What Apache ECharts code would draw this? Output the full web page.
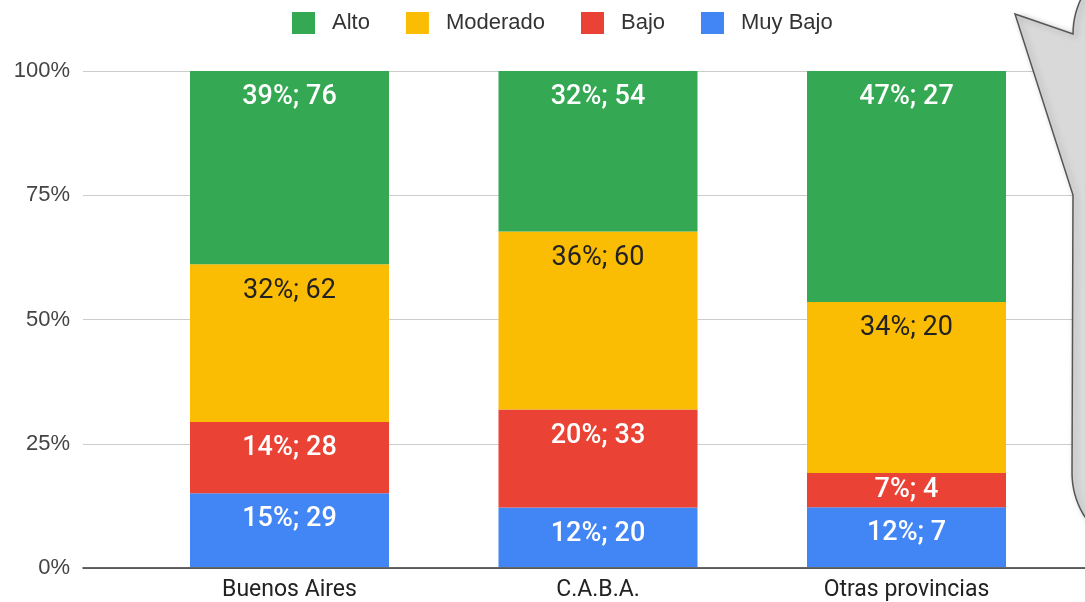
<!DOCTYPE html>
<html>
<head>
<meta charset="utf-8">
<script src="https://cdn.jsdelivr.net/npm/echarts@6/dist/echarts.min.js"></script>
<style>
html,body{margin:0;padding:0;background:#fff;}
#chart{width:1085px;height:602px;}
</style>
</head>
<body>
<div id="chart"></div>
<script>
// Data (counts per level)
const categories = ['Buenos Aires', 'C.A.B.A.', 'Otras provincias'];
const muyBajo = [29, 20, 7];
const bajo = [28, 33, 4];
const moderado = [62, 60, 20];
const alto = [76, 54, 27];
const yTicks = [0, 25, 50, 75, 100];

const seriesDefs = [
  { name: 'Muy Bajo', counts: muyBajo, color: '#4285f4', text: '#ffffff', weight: 500 },
  { name: 'Bajo', counts: bajo, color: '#ea4335', text: '#ffffff', weight: 500 },
  { name: 'Moderado', counts: moderado, color: '#fbbc04', text: '#222222', weight: 'normal' },
  { name: 'Alto', counts: alto, color: '#34a853', text: '#ffffff', weight: 500 }
];

const totals = categories.map((c, i) => seriesDefs.reduce((s, d) => s + d.counts[i], 0));
const plotH = 497; // px height of plot, used only to decide label placement

const series = seriesDefs.map(d => ({
  name: d.name,
  type: 'bar',
  stack: 'total',
  xAxisIndex: 1,
  yAxisIndex: 1,
  barWidth: 199,
  itemStyle: { color: d.color },
  data: d.counts.map((v, i) => {
    const pct = v / totals[i] * 100;
    const small = pct / 100 * plotH < 48;
    return {
      value: pct,
      count: v,
      label: { position: small ? 'inside' : 'insideTop' }
    };
  }),
  label: {
    show: true,
    position: 'insideTop',
    distance: 13,
    color: d.text,
    fontFamily: 'Roboto',
    fontWeight: d.weight,
    fontSize: 27,
    formatter: p => Math.round(p.value) + '%; ' + p.data.count
  }
}));

// Speech-bubble decoration outline (drawn as polygon)
function arcPts(cx, cy, r, a0, a1, n) {
  const pts = [];
  for (let k = 0; k <= n; k++) {
    const a = a0 + (a1 - a0) * k / n;
    pts.push([cx + r * Math.cos(a), cy + r * Math.sin(a)]);
  }
  return pts;
}
const bubblePts = [[1015, 14], [1073, 34]]
  .concat(arcPts(1154, 34, 81, Math.PI, Math.PI * 1.5, 24))
  .concat([[1220, -47], [1220, 554], [1153, 554]])
  .concat(arcPts(1153, 473, 81, Math.PI * 0.5, Math.PI, 24))
  .concat([[1073, 195]]);

const chart = echarts.init(document.getElementById('chart'), null, { renderer: 'canvas' });
chart.setOption({
  animation: false,
  legend: {
    data: ['Alto', 'Moderado', 'Bajo', 'Muy Bajo'],
    left: 292,
    top: 12,
    padding: 0,
    itemWidth: 23,
    itemHeight: 22,
    itemGap: 36,
    icon: 'rect',
    textStyle: { fontFamily: 'Liberation Sans', fontSize: 22, color: '#333', padding: [0, 0, 0, 12] }
  },
  grid: [
    { left: 83, right: 0, top: 71, bottom: 34 },
    { left: 135.25, right: 24.25, top: 71, bottom: 34 }
  ],
  xAxis: [{
    type: 'value',
    gridIndex: 0,
    min: 0,
    max: 1,
    splitLine: { show: false },
    axisTick: { show: false },
    axisLabel: { show: false },
    axisLine: { show: true, lineStyle: { color: '#333', width: 1.5 } }
  }, {
    type: 'category',
    gridIndex: 1,
    data: categories,
    axisLine: { show: false },
    axisTick: { show: false },
    axisLabel: {
      fontFamily: 'Roboto',
      fontSize: 23,
      color: '#222',
      margin: 12
    }
  }],
  yAxis: [{
    type: 'value',
    gridIndex: 0,
    min: yTicks[0],
    max: yTicks[yTicks.length - 1],
    interval: 25,
    axisLine: { show: false },
    axisTick: { show: false },
    splitLine: { lineStyle: { color: '#cccccc', width: 1 } },
    axisLabel: {
      formatter: v => v + '%',
      fontFamily: 'Liberation Sans',
      fontSize: 22,
      color: '#444',
      margin: 13
    }
  }, {
    type: 'value',
    gridIndex: 1,
    min: 0,
    max: 100,
    show: false,
    splitLine: { show: false }
  }],
  series: series,
  graphic: [{
    type: 'polygon',
    z: 100,
    shape: { points: bubblePts },
    style: {
      fill: '#d9d9d9',
      stroke: '#555555',
      lineWidth: 1.5,
      shadowBlur: 6,
      shadowColor: 'rgba(0,0,0,0.25)',
      shadowOffsetX: 3,
      shadowOffsetY: 2
    }
  }]
});
</script>
</body>
</html>
